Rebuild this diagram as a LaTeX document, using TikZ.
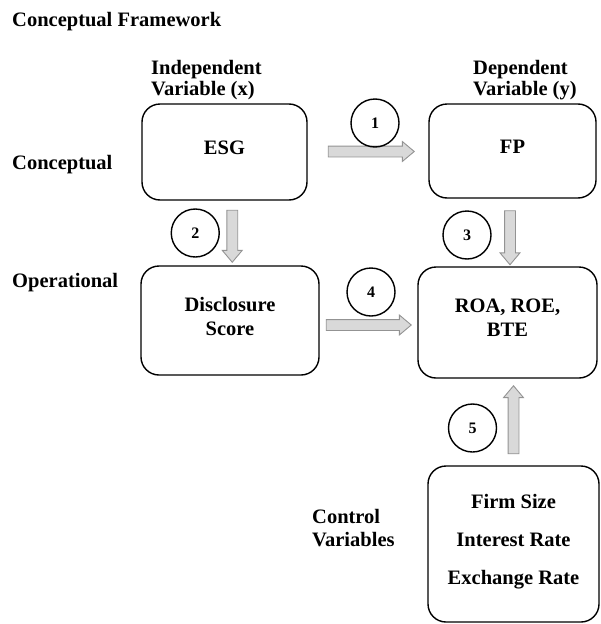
\documentclass[tikz,border=0pt]{standalone}
\usepackage{fontspec}
\setmainfont{Liberation Serif}
\usetikzlibrary{shapes.arrows,calc}

\begin{document}
\begin{tikzpicture}[x=1pt,y=-1pt,
  every node/.style={font=\fontsize{20.5}{24}\selectfont\bfseries},
  lbl/.style={inner sep=0pt, align=left},
  varbox/.style={draw, line width=1.4pt, rounded corners=18pt, align=center, text depth=9pt},
  blockarrow/.style={single arrow, draw=gray!85, fill=gray!30, line width=0.9pt,
    inner xsep=0pt, inner ysep=5pt, single arrow head extend=4.5pt, single arrow tip angle=80},
  numcircle/.style={circle, draw, line width=1.4pt, minimum size=48pt, inner sep=0pt,
    font=\fontsize{16}{16}\selectfont\bfseries}]
\useasboundingbox (0,0) rectangle (600,624);
% labels
\node[lbl, anchor=base west] (title) at (12,26) {Conceptual Framework};
\node[lbl, anchor=north west, font=\fontsize{20.5}{21.5}\selectfont\bfseries] (indep) at (151,60) {Independent\\Variable (x)};
\node[lbl, anchor=north west, font=\fontsize{20.5}{21.5}\selectfont\bfseries] (dep) at (473,60) {Dependent\\Variable (y)};
\node[lbl, anchor=base west] (concept) at (12,169) {Conceptual};
\node[lbl, anchor=base west] (oper) at (12,287) {Operational};
\node[lbl, anchor=north west, font=\fontsize{20.5}{23}\selectfont\bfseries] (ctrlvar) at (312,509) {Control\\Variables};
% boxes
\node[varbox, minimum width=165pt, minimum height=96pt] (esg) at (224.5,152) {ESG};
\node[varbox, minimum width=167pt, minimum height=94pt] (fp) at (512.5,151) {FP};
\node[varbox, minimum width=178pt, minimum height=109pt] (disc) at (230,320.5) {Disclosure\\Score};
\node[varbox, minimum width=179pt, minimum height=111pt] (roa) at (507.5,322.5) {ROA, ROE,\\BTE};
\node[varbox, minimum width=171pt, minimum height=156pt] (ctrl) at (513.5,544) {Firm Size\\[14pt]Interest Rate\\[14pt]Exchange Rate};
% arrows
\node[blockarrow, minimum height=86pt] (a1) at ($(esg.east)!.5!(fp.west)$) {};
\node[blockarrow, minimum height=52pt, rotate=-90] (a2) at ($(esg.south)!.5!(disc.north)+(5,0)$) {};
\node[blockarrow, minimum height=54pt, rotate=-90] (a3) at ($(fp.south)!.5!(roa.north)+(0,2)$) {};
\node[blockarrow, minimum height=85pt] (a4) at ($(disc.east)!.5!(roa.west)+(-3,3.5)$) {};
\node[blockarrow, minimum height=68pt, rotate=90] (a5) at ($(roa.south)!.5!(ctrl.north)+(3,1)$) {};
% numbers
\node[numcircle] (n1) at ($(a1)+(7,-28.5)$) {1};
\node[numcircle] (n2) at ($(a2)+(-37,0)$) {2};
\node[numcircle] (n3) at ($(a3)+(-43,0.5)$) {3};
\node[numcircle] (n4) at ($(a4)+(5.5,-33)$) {4};
\node[numcircle] (n5) at ($(a5)+(-41,5)$) {5};
\end{tikzpicture}
\end{document}
